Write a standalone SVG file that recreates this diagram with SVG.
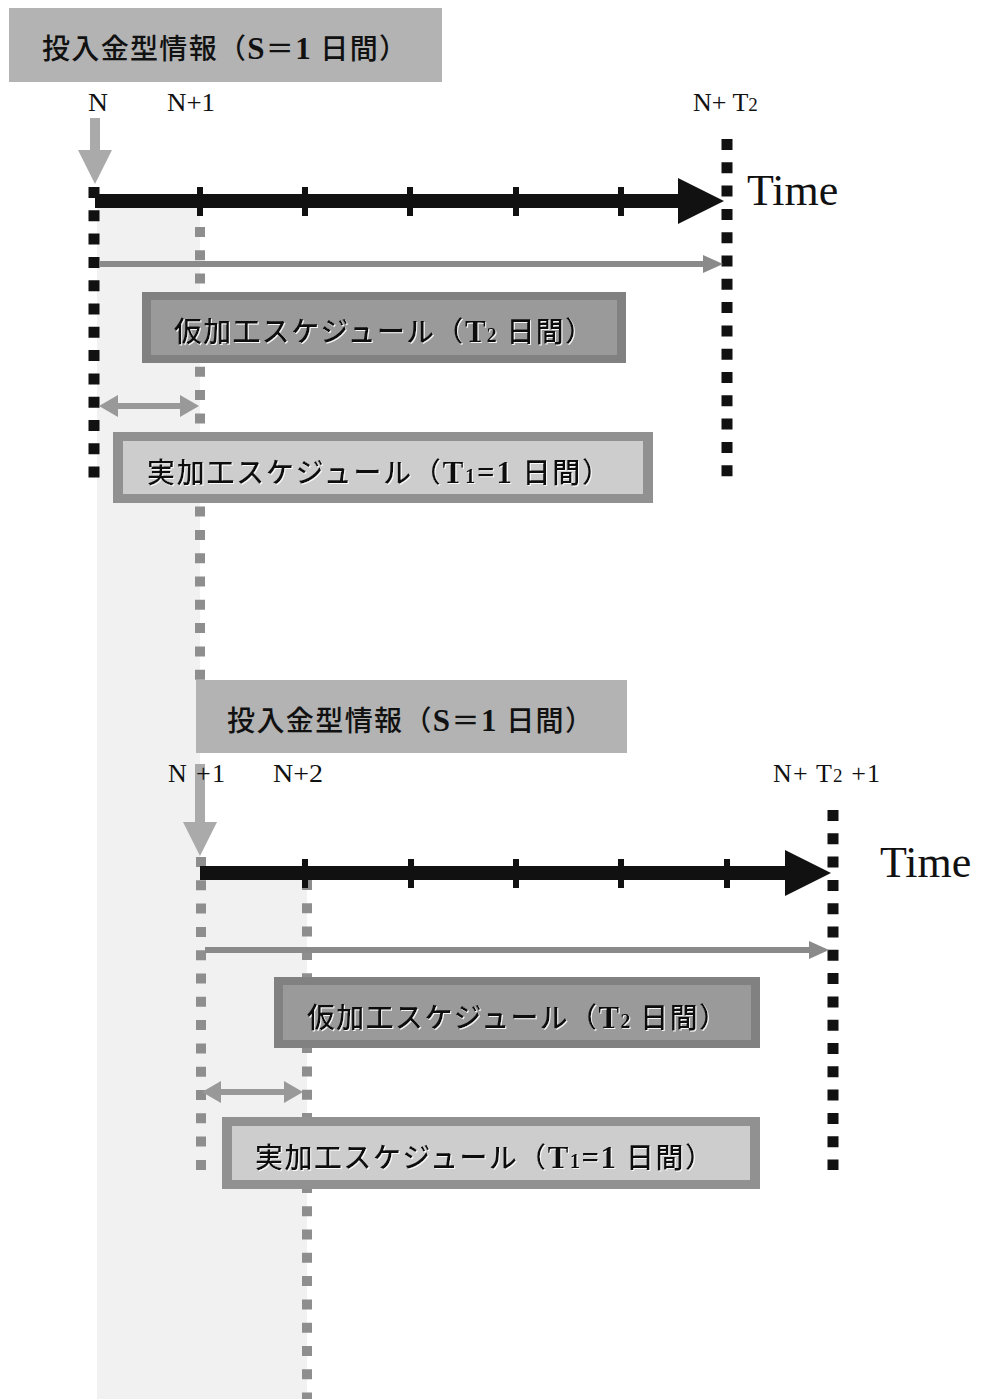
<svg xmlns="http://www.w3.org/2000/svg" width="982" height="1399" viewBox="0 0 982 1399">
<style>
.bg{fill:#ffffff}
.shade{fill:#f1f1f1}
.title{fill:#b3b3b3}
.kouter{fill:#818181}
.kinner{fill:#9a9a9a}
.jouter{fill:#919191}
.jinner{fill:#cdcdcd}
.jp{font-family:"Liberation Serif","Noto Sans CJK JP",serif;font-size:28px;fill:#111;font-weight:500}
.lat{font-family:"Liberation Serif",serif;font-size:31px;font-weight:700}
.sub{font-family:"Liberation Serif",serif;font-size:20px;font-weight:700}
.lbl{font-family:"Liberation Serif","Noto Sans CJK JP",serif;font-size:26px;fill:#111}
.time{font-family:"Liberation Serif",serif;font-size:44px;fill:#111}
.blackdot{stroke:#111;stroke-width:11;stroke-dasharray:11 12.3;fill:none}
.greydot{stroke:#8e8e8e;stroke-width:10;stroke-dasharray:10 13.3;fill:none}
.axis{stroke:#111;stroke-width:14;fill:none}
.tick{stroke:#111;stroke-width:6}
.garrow{stroke:#8a8a8a;stroke-width:6;fill:none}
.darrow{stroke:#999;stroke-width:6;fill:none}
.down{stroke:#aaa;stroke-width:10;fill:none}
</style>
<defs>
<filter id="halo" x="-5%" y="-20%" width="110%" height="140%">
<feDropShadow dx="1" dy="1" stdDeviation="0.6" flood-color="#ffffff" flood-opacity="0.9"/>
</filter>
<marker id="axhead" markerUnits="userSpaceOnUse" markerWidth="46" markerHeight="46" refX="12" refY="23" orient="auto">
<path d="M0,0 L46,23 L0,46 z" fill="#111"/>
</marker>
<marker id="ghead" markerUnits="userSpaceOnUse" markerWidth="20" markerHeight="18" refX="7" refY="9" orient="auto">
<path d="M0,0 L20,9 L0,18 z" fill="#8a8a8a"/>
</marker>
<marker id="dhead" markerUnits="userSpaceOnUse" markerWidth="19" markerHeight="22" refX="6" refY="11" orient="auto-start-reverse">
<path d="M0,0 L19,11 L0,22 z" fill="#999"/>
</marker>
<marker id="downhead" markerUnits="userSpaceOnUse" markerWidth="34" markerHeight="34" refX="10" refY="17" orient="auto">
<path d="M0,0 L34,17 L0,34 z" fill="#aaa"/>
</marker>
</defs>
<rect class="bg" x="0" y="0" width="982" height="1399"/>
<g id="shading">
<rect class="shade" x="97" y="208" width="103" height="1191"/>
<rect class="shade" x="200" y="880" width="107" height="519"/>
</g>
<g id="connectors">
<line class="greydot" x1="200" y1="227" x2="200" y2="690"/>
<line class="greydot" x1="201" y1="857" x2="201" y2="1170"/>
<line class="greydot" x1="307" y1="880" x2="307" y2="1399"/>
<line class="down" x1="95" y1="118" x2="95" y2="160" marker-end="url(#downhead)"/>
<line class="down" x1="200" y1="764" x2="200" y2="832" marker-end="url(#downhead)"/>
<line class="axis" x1="95" y1="201" x2="690" y2="201" marker-end="url(#axhead)"/>
<line class="tick" x1="200" y1="187" x2="200" y2="216"/>
<line class="tick" x1="305" y1="187" x2="305" y2="216"/>
<line class="tick" x1="410" y1="187" x2="410" y2="216"/>
<line class="tick" x1="516" y1="187" x2="516" y2="216"/>
<line class="tick" x1="621" y1="187" x2="621" y2="216"/>
<line class="axis" x1="200" y1="873" x2="797" y2="873" marker-end="url(#axhead)"/>
<line class="tick" x1="305" y1="859" x2="305" y2="888"/>
<line class="tick" x1="411" y1="859" x2="411" y2="888"/>
<line class="tick" x1="516" y1="859" x2="516" y2="888"/>
<line class="tick" x1="621" y1="859" x2="621" y2="888"/>
<line class="tick" x1="727" y1="859" x2="727" y2="888"/>
<line class="blackdot" x1="94" y1="187" x2="94" y2="479"/>
<line class="blackdot" x1="727" y1="139" x2="727" y2="479"/>
<line class="blackdot" x1="833" y1="810" x2="833" y2="1170"/>
<line class="garrow" x1="100" y1="264" x2="710" y2="264" marker-end="url(#ghead)"/>
<line class="garrow" x1="205" y1="950" x2="816" y2="950" marker-end="url(#ghead)"/>
<line class="darrow" x1="112" y1="406" x2="186" y2="406" marker-start="url(#dhead)" marker-end="url(#dhead)"/>
<line class="darrow" x1="215" y1="1092" x2="290" y2="1092" marker-start="url(#dhead)" marker-end="url(#dhead)"/>
</g>
<g id="title1">
<rect class="title" x="9" y="8" width="433" height="74"/>
<text class="jp" x="42" y="59" textLength="365" lengthAdjust="spacing">投入金型情報（<tspan class="lat">S</tspan>＝<tspan class="lat">1</tspan> 日間）</text>
</g>
<g id="labels1">
<text class="lbl" x="88" y="111" textLength="20" lengthAdjust="spacingAndGlyphs">N</text>
<text class="lbl" x="167" y="111" textLength="48" lengthAdjust="spacingAndGlyphs">N+1</text>
<text class="lbl" x="693" y="111">N+ T<tspan font-size="19">2</tspan></text>
<text class="time" x="747" y="205">Time</text>
</g>
<g id="kari1">
<rect class="kouter" x="142" y="292" width="484" height="71"/>
<rect class="kinner" x="151" y="300" width="466" height="55"/>
<text class="jp" x="174" y="342" textLength="419" lengthAdjust="spacing" filter="url(#halo)">仮加工スケジュール（<tspan class="lat">T</tspan><tspan class="sub">2</tspan> 日間）</text>
</g>
<g id="jitsu1">
<rect class="jouter" x="113" y="432" width="540" height="71"/>
<rect class="jinner" x="123" y="441" width="520" height="53"/>
<text class="jp" x="147" y="483" textLength="463" lengthAdjust="spacing" filter="url(#halo)">実加工スケジュール（<tspan class="lat">T</tspan><tspan class="sub">1</tspan><tspan class="lat">=1</tspan> 日間）</text>
</g>
<g id="title2">
<rect class="title" x="196" y="680" width="431" height="73"/>
<text class="jp" x="227" y="731" textLength="366" lengthAdjust="spacing">投入金型情報（<tspan class="lat">S</tspan>＝<tspan class="lat">1</tspan> 日間）</text>
</g>
<g id="labels2">
<text class="lbl" x="168" y="782" textLength="57" lengthAdjust="spacing">N +1</text>
<text class="lbl" x="273" y="782" textLength="50" lengthAdjust="spacingAndGlyphs">N+2</text>
<text class="lbl" x="773" y="782" textLength="107" lengthAdjust="spacing">N+ T<tspan font-size="19">2</tspan> +1</text>
<text class="time" x="880" y="877">Time</text>
</g>
<g id="kari2">
<rect class="kouter" x="274" y="977" width="486" height="71"/>
<rect class="kinner" x="283" y="985" width="468" height="55"/>
<text class="jp" x="307" y="1028" textLength="420" lengthAdjust="spacing" filter="url(#halo)">仮加工スケジュール（<tspan class="lat">T</tspan><tspan class="sub">2</tspan> 日間）</text>
</g>
<g id="jitsu2">
<rect class="jouter" x="222" y="1117" width="538" height="72"/>
<rect class="jinner" x="232" y="1126" width="518" height="54"/>
<text class="jp" x="255" y="1168" textLength="458" lengthAdjust="spacing" filter="url(#halo)">実加工スケジュール（<tspan class="lat">T</tspan><tspan class="sub">1</tspan><tspan class="lat">=1</tspan> 日間）</text>
</g>
</svg>
